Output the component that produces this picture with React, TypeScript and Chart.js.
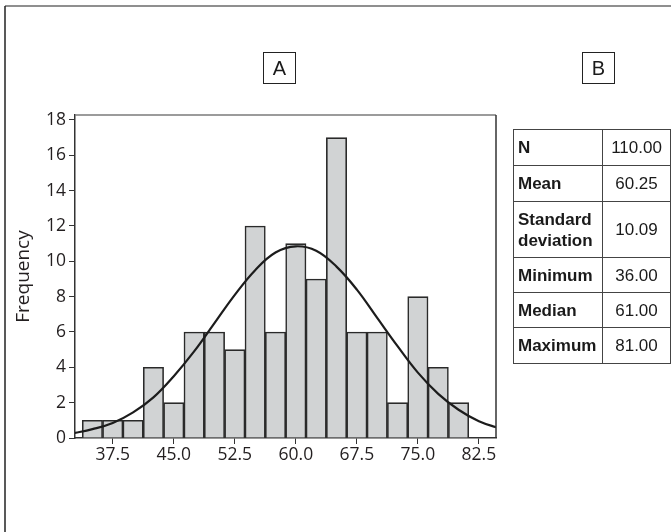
import React, { useEffect, useRef } from "react";
import { Chart, registerables } from "chart.js";

Chart.register(...registerables);

// Histogram bins (centres, width 2.5) and counts
const binCenters = [35, 37.5, 40, 42.5, 45, 47.5, 50, 52.5, 55, 57.5, 60, 62.5, 65, 67.5, 70, 72.5, 75, 77.5, 80];
const frequencies = [1, 1, 1, 4, 2, 6, 6, 5, 12, 6, 11, 9, 17, 6, 6, 2, 8, 4, 2];

// Fitted normal curve
const curveX = [32.5, 35, 37.5, 40, 42.5, 45, 47.5, 50, 52.5, 55, 57.5, 60, 62.5, 65, 67.5, 70, 72.5, 75, 77.5, 80, 82.5, 85];
const curveY = [0.25, 0.5, 0.85, 1.45, 2.3, 3.5, 4.9, 6.5, 8.1, 9.5, 10.5, 10.85, 10.6, 9.7, 8.4, 6.8, 5.2, 3.7, 2.5, 1.6, 0.95, 0.55];

const xTicks = [37.5, 45, 52.5, 60, 67.5, 75, 82.5];
const yTicks = [0, 2, 4, 6, 8, 10, 12, 14, 16, 18];

const statLabels = ["N", "Mean", "Standard deviation", "Minimum", "Median", "Maximum"];
const statValues = ["110.00", "60.25", "10.09", "36.00", "61.00", "81.00"];
const rowHeights = [36, 36, 56, 35, 35, 36];

const panelLabels = ["A", "B"];

const framePlugin = {
  id: "frames",
  beforeDraw(chart: any) {
    const ctx = chart.ctx;
    ctx.save();
    ctx.fillStyle = "#ffffff";
    ctx.fillRect(0, 0, chart.width, chart.height);
    // outer frame (top and left visible)
    ctx.lineWidth = 1.5;
    ctx.strokeStyle = "#6a6a6a";
    ctx.beginPath();
    ctx.moveTo(5, 6);
    ctx.lineTo(chart.width, 6);
    ctx.stroke();
    ctx.strokeStyle = "#222222";
    ctx.beginPath();
    ctx.moveTo(5, 6);
    ctx.lineTo(5, chart.height);
    ctx.stroke();
    ctx.restore();
  },
  afterDraw(chart: any) {
    const { left, right, top, bottom } = chart.chartArea;
    const ctx = chart.ctx;
    ctx.save();
    ctx.lineWidth = 1.5;
    ctx.strokeStyle = "#7a7a7a";
    ctx.beginPath();
    ctx.moveTo(left, top);
    ctx.lineTo(right, top);
    ctx.stroke();
    ctx.strokeStyle = "#333333";
    ctx.beginPath();
    ctx.moveTo(right, top);
    ctx.lineTo(right, bottom);
    ctx.stroke();
    ctx.restore();
  },
};

export default function App() {
  const canvasRef = useRef<HTMLCanvasElement | null>(null);

  useEffect(() => {
    document.body.style.margin = "0";
    const canvas = canvasRef.current;
    if (!canvas) return;
    const tickFont = { family: "'Open Sans', 'Noto Sans', sans-serif", size: 17.5 };
    const chart = new Chart(canvas, {
      type: "bar",
      data: {
        datasets: [
          {
            type: "line",
            data: curveX.map((x, i) => ({ x, y: curveY[i] })),
            borderColor: "#1c1c1c",
            borderWidth: 2.2,
            pointRadius: 0,
            tension: 0.4,
            fill: false,
            order: 0,
          } as any,
          {
            type: "bar",
            data: binCenters.map((x, i) => ({ x, y: frequencies[i] })),
            backgroundColor: "#d1d3d4",
            borderColor: "#2a2a2a",
            borderWidth: 1.6,
            barPercentage: 1,
            categoryPercentage: 1,
            order: 1,
          } as any,
        ],
      },
      options: {
        animation: false,
        responsive: false,
        events: [],
        layout: { padding: { left: 12, right: 175, top: 115, bottom: 54 } },
        plugins: { legend: { display: false }, tooltip: { enabled: false } },
        scales: {
          x: {
            type: "linear",
            min: 32.86,
            max: 84.6,
            offset: false,
            afterBuildTicks: (s: any) => {
              s.ticks = xTicks.map((v) => ({ value: v }));
            },
            afterFit: (s: any) => {
              s.height = 40;
            },
            ticks: {
              font: tickFont,
              color: "#231f20",
              padding: 1,
              maxRotation: 0,
              autoSkip: false,
              callback: (v: any) => Number(v).toFixed(1),
            },
            grid: { drawOnChartArea: false, drawTicks: true, tickLength: 6, color: "#333333", offset: false },
            border: { display: true, color: "#333333", width: 1.5 },
          },
          y: {
            type: "linear",
            min: 0,
            max: 18.28,
            afterBuildTicks: (s: any) => {
              s.ticks = yTicks.map((v) => ({ value: v }));
            },
            afterFit: (s: any) => {
              s.width = 63;
            },
            ticks: { font: tickFont, color: "#231f20", padding: 3, autoSkip: false },
            grid: { drawOnChartArea: false, drawTicks: true, tickLength: 6, color: "#333333" },
            border: { display: true, color: "#333333", width: 1.5 },
            title: {
              display: true,
              text: "Frequency",
              color: "#231f20",
              font: { family: "'Open Sans', 'Noto Sans', sans-serif", size: 19 },
              padding: { top: 0, bottom: 0 },
            },
          },
        },
      },
      plugins: [framePlugin],
    } as any);
    return () => chart.destroy();
  }, []);

  const boxStyle = (left: number): React.CSSProperties => ({
    position: "absolute",
    left,
    top: 52,
    width: 33,
    height: 32,
    boxSizing: "border-box",
    border: "1.5px solid #222",
    display: "flex",
    alignItems: "center",
    justifyContent: "center",
    fontFamily: "'Liberation Sans', Arial, sans-serif",
    fontSize: 20,
    color: "#1a1a1a",
  });

  const cellBase: React.CSSProperties = {
    border: "1.5px solid #444",
    fontFamily: "'Liberation Sans', Arial, sans-serif",
    fontSize: 17,
    color: "#1a1a1a",
    padding: 0,
    lineHeight: "21px",
    boxSizing: "border-box",
  };

  return (
    <div style={{ position: "relative", width: 671, height: 532, background: "#fff" }}>
      <canvas ref={canvasRef} width={671} height={532} style={{ position: "absolute", left: 0, top: 0, width: 671, height: 532 }} />
      <div style={boxStyle(263)}>{panelLabels[0]}</div>
      <div style={boxStyle(582)}>{panelLabels[1]}</div>
      <table
        style={{
          position: "absolute",
          left: 513,
          top: 129,
          width: 157,
          borderCollapse: "collapse",
          tableLayout: "fixed",
        }}
      >
        <colgroup>
          <col style={{ width: 89 }} />
          <col style={{ width: 68 }} />
        </colgroup>
        <tbody>
          {statLabels.map((lab, i) => (
            <tr key={lab} style={{ height: rowHeights[i] }}>
              <td style={{ ...cellBase, fontWeight: "bold", textAlign: "left", paddingLeft: 4 }}>
                {lab === "Standard deviation" ? (
                  <>
                    Standard
                    <br />
                    deviation
                  </>
                ) : (
                  lab
                )}
              </td>
              <td style={{ ...cellBase, textAlign: "center" }}>{statValues[i]}</td>
            </tr>
          ))}
        </tbody>
      </table>
    </div>
  );
}
